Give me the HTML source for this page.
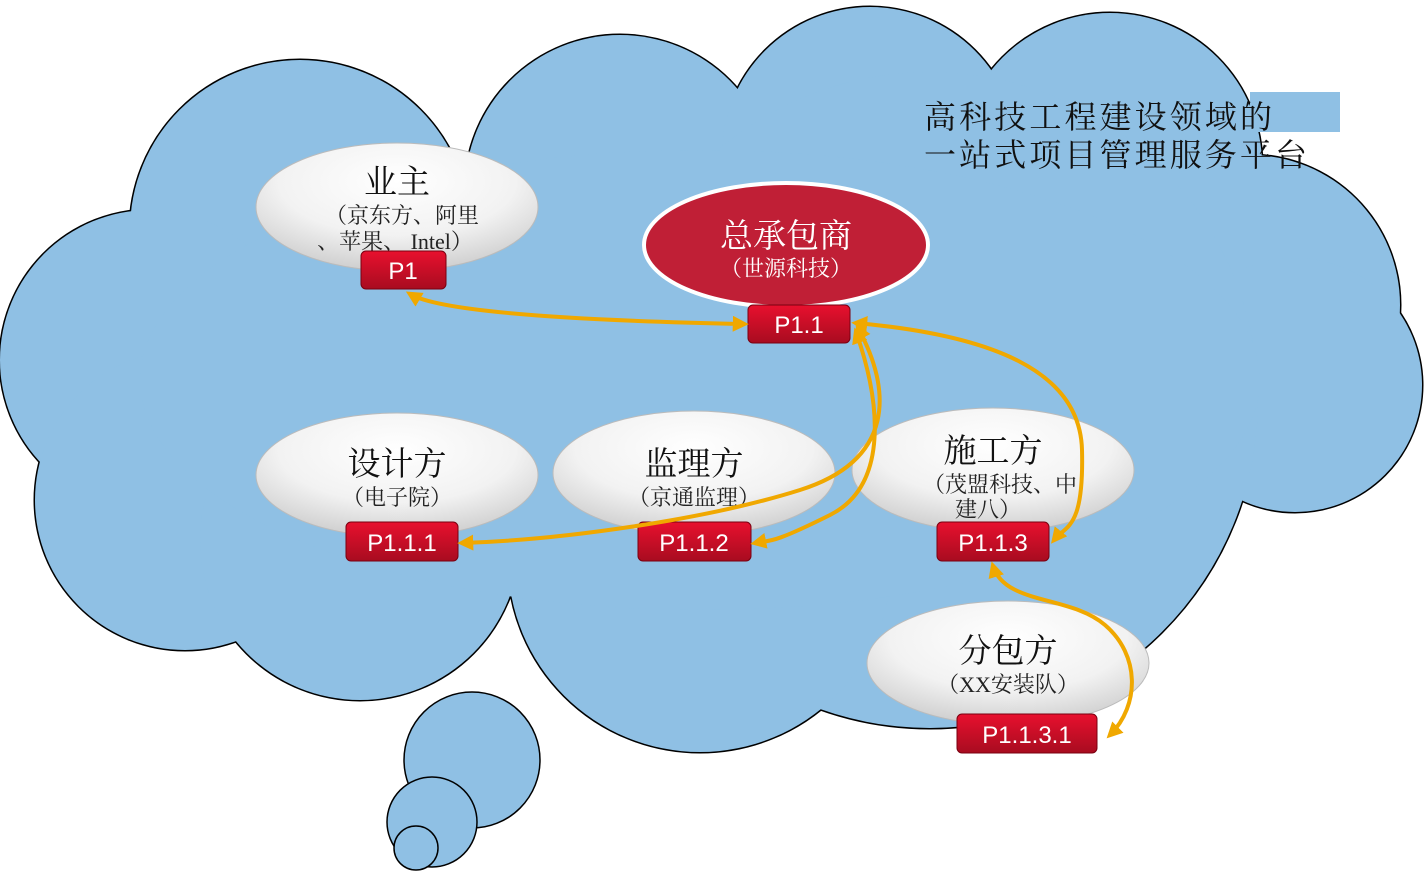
<!DOCTYPE html>
<html><head><meta charset="utf-8"><style>
html,body{margin:0;padding:0;background:#fff;}
svg{display:block;}
text{font-family:"Liberation Serif","Noto Serif CJK SC",serif;}
.b{font-family:"Liberation Sans","Noto Sans CJK SC",sans-serif;font-size:24px;fill:#fff;text-anchor:middle;}
</style></head><body>
<svg width="1424" height="871" viewBox="0 0 1424 871" xmlns="http://www.w3.org/2000/svg">
<defs>
<radialGradient id="wg" cx="50%" cy="30%" r="70%">
<stop offset="0" stop-color="#ffffff"/><stop offset="0.6" stop-color="#f2f2f2"/><stop offset="1" stop-color="#cfcfcf"/>
</radialGradient>
<linearGradient id="rg" x1="0" y1="0" x2="0" y2="1">
<stop offset="0" stop-color="#e8102e"/><stop offset="1" stop-color="#a80c20"/>
</linearGradient>
<marker id="ah" viewBox="0 0 10 10" refX="7" refY="5" markerWidth="4" markerHeight="4" orient="auto-start-reverse">
<path d="M0,0 L10,5 L0,10 z" fill="#f0a800"/>
</marker>
</defs>
<g id="cl">
<circle cx="620" cy="190" r="155"/>
<circle cx="870" cy="155" r="148"/>
<circle cx="1110" cy="165" r="152"/>
<circle cx="1250" cy="305" r="150"/>
<circle cx="1295" cy="385" r="127"/>
<circle cx="1100" cy="470" r="132"/>
<circle cx="930" cy="400" r="328"/>
<circle cx="300" cy="230" r="170"/>
<circle cx="150" cy="360" r="150"/>
<circle cx="185" cy="500" r="150"/>
<circle cx="360" cy="540" r="160"/>
<circle cx="700" cy="560" r="192"/>
<ellipse cx="700" cy="380" rx="560" ry="230"/>
</g>
<use href="#cl" fill="none" stroke="#000" stroke-width="3"/>
<use href="#cl" fill="#8fc0e4" stroke="none"/>
<rect x="1250" y="92" width="90" height="40" fill="#8fc0e4"/>
<circle cx="472" cy="760" r="68" fill="#8fc0e4" stroke="#000" stroke-width="1.5"/>
<circle cx="432" cy="822" r="45" fill="#8fc0e4" stroke="#000" stroke-width="1.5"/>
<circle cx="416" cy="848" r="22" fill="#8fc0e4" stroke="#000" stroke-width="1.5"/>

<text x="924" y="128" font-size="32" fill="#111" textLength="348">高科技工程建设领域的</text>
<text x="924" y="166" font-size="32" fill="#111" textLength="383">一站式项目管理服务平台</text>

<g stroke="#bbb" stroke-width="1">
<ellipse cx="397" cy="207" rx="141" ry="64" fill="url(#wg)"/>
<ellipse cx="397" cy="475" rx="141" ry="62" fill="url(#wg)"/>
<ellipse cx="694" cy="473" rx="141" ry="62" fill="url(#wg)"/>
<ellipse cx="993" cy="470" rx="141" ry="62" fill="url(#wg)"/>
<ellipse cx="1008" cy="663" rx="141" ry="62" fill="url(#wg)"/>
</g>
<ellipse cx="786" cy="245" rx="142" ry="62" fill="#c01f36" stroke="#fff" stroke-width="4"/>

<g font-size="33" text-anchor="middle" fill="#111">
<text x="397" y="193">业主</text>
<text x="397" y="475">设计方</text>
<text x="694" y="475">监理方</text>
<text x="993" y="462">施工方</text>
<text x="1008" y="662">分包方</text>
<text x="786" y="247" fill="#fff">总承包商</text>
</g>
<g font-size="22" text-anchor="middle" fill="#222">
<text x="402" y="223">（京东方、阿里</text>
<text x="395" y="249">、苹果、 Intel）</text>
<text x="397" y="505">（电子院）</text>
<text x="694" y="505">（京通监理）</text>
<text x="1000" y="492">（茂盟科技、中</text>
<text x="988" y="517">建八）</text>
<text x="1008" y="692">（XX安装队）</text>
<text x="786" y="276" fill="#fff">（世源科技）</text>
</g>

<g stroke="#7a0010" stroke-width="1">
<rect x="361" y="251" width="85" height="38" rx="5" fill="url(#rg)"/>
<rect x="748" y="305" width="102" height="38" rx="5" fill="url(#rg)"/>
<rect x="346" y="522" width="112" height="39" rx="5" fill="url(#rg)"/>
<rect x="638" y="522" width="113" height="39" rx="5" fill="url(#rg)"/>
<rect x="937" y="522" width="112" height="39" rx="5" fill="url(#rg)"/>
<rect x="957" y="714" width="140" height="39" rx="5" fill="url(#rg)"/>
</g>
<text class="b" x="403" y="279">P1</text>
<text class="b" x="799" y="333">P1.1</text>
<text class="b" x="402" y="551">P1.1.1</text>
<text class="b" x="694" y="551">P1.1.2</text>
<text class="b" x="993" y="551">P1.1.3</text>
<text class="b" x="1027" y="743">P1.1.3.1</text>

<g fill="none" stroke="#f0a800" stroke-width="4" marker-start="url(#ah)" marker-end="url(#ah)">
<path d="M410,294 Q450,318 744,324"/>
<path d="M858,328 C892,390 895,460 800,490 S560,540 462,543"/>
<path d="M856,332 C880,400 890,485 830,515 S770,540 755,543"/>
<path d="M856,323 C990,335 1080,370 1082,450 S1066,525 1054,540"/>
<path d="M993,566 C1005,605 1070,595 1105,625 S1140,705 1110,735"/>
</g>
</svg>
</body></html>
